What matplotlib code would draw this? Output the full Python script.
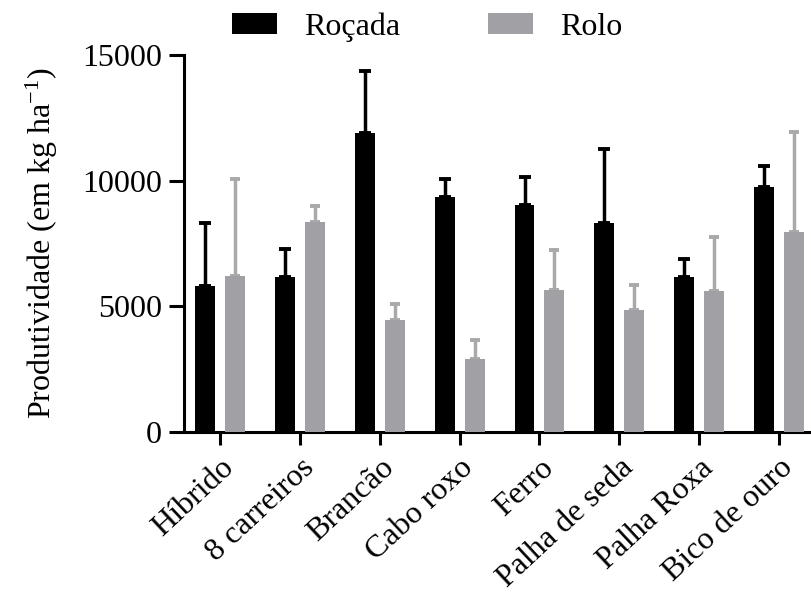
import numpy as np
import matplotlib
matplotlib.use("Agg")
import matplotlib.pyplot as plt

fonte = ['Liberation Serif', 'DejaVu Serif']
plt.rcParams['font.family'] = fonte
plt.rcParams['mathtext.fontset'] = 'custom'
plt.rcParams['mathtext.rm'] = 'Liberation Serif'
plt.rcParams['mathtext.it'] = 'Liberation Serif:italic'

cultivares = ["Híbrido", "8 carreiros", "Brancão", "Cabo roxo", "Ferro",
              "Palha de seda", "Palha Roxa", "Bico de ouro"]
rocada = [5800, 6150, 11900, 9350, 9050, 8300, 6150, 9750]
rocada_topo = [8300, 7300, 14350, 10050, 10150, 11250, 6900, 10600]
rolo = [6200, 8350, 4450, 2900, 5650, 4850, 5600, 7950]
rolo_topo = [10050, 9000, 5100, 3650, 7250, 5850, 7750, 11950]

preto = "#000000"
cinza = "#a1a1a5"
cinza_erro = "#a9a9ab"
tam = 23

rocada = np.array(rocada)
rolo = np.array(rolo)
err_roc = np.array(rocada_topo) - rocada
err_rol = np.array(rolo_topo) - rolo

fig = plt.figure(figsize=(8.11, 5.99), dpi=100)
ax = fig.add_axes([0.2269, 0.2788, 0.7731, 0.6294])

x = np.arange(len(cultivares))
w = 0.25
d = 0.1875

ax.bar(x - d, rocada, w, color=preto, label="Roçada", zorder=3)
ax.bar(x + d, rolo, w, color=cinza, label="Rolo", zorder=3)
ax.errorbar(x - d, rocada, yerr=[np.zeros_like(err_roc), err_roc], fmt="none",
            ecolor=preto, elinewidth=2.5, capsize=4.2, capthick=2.8, zorder=2, clip_on=False)
ax.errorbar(x + d, rolo, yerr=[np.zeros_like(err_rol), err_rol], fmt="none",
            ecolor=cinza_erro, elinewidth=2.5, capsize=3.6, capthick=2.8, zorder=2, clip_on=False)

ax.set_xlim(-0.451, 7.40)
ax.set_ylim(0, 15000)
ax.set_yticks([0, 5000, 10000, 15000])
ax.set_yticklabels(["0", "5000", "10000", "15000"], family=fonte, fontsize=tam)
ax.set_xticks(x)
ax.set_xticklabels(cultivares, rotation=43, ha="right", va="top",
                   rotation_mode="anchor", fontsize=tam, family=fonte)

for s in ["top", "right"]:
    ax.spines[s].set_visible(False)
for s in ["left", "bottom"]:
    ax.spines[s].set_linewidth(2.2)

ax.tick_params(axis="y", length=10.8, width=2.2, pad=5)
ax.tick_params(axis="x", length=9.5, width=2.2, pad=6)

ax.set_ylabel(r"Produtividade (em kg ha$^{\mathrm{-1}}$)", fontsize=tam,
              labelpad=16, family=fonte)

fig.legend(loc="center", bbox_to_anchor=(0.527, 0.955), ncol=2, frameon=False,
           prop={'family': fonte, 'size': tam}, handlelength=1.4, handleheight=0.6,
           handletextpad=0.85, columnspacing=2.75)

fig.savefig("out.png", dpi=100)
